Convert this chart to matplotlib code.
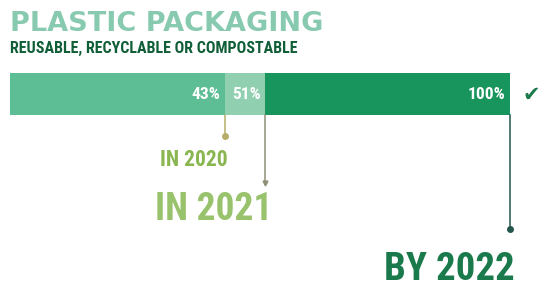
import matplotlib
matplotlib.use("Agg")
import matplotlib.pyplot as plt

# ---- data ----
title = "PLASTIC PACKAGING"
subtitle = "REUSABLE, RECYCLABLE OR COMPOSTABLE"
pcts = [43, 51, 100]
bar_labels = ["43%", "51%", "100%"]
year_labels = ["IN 2020", "IN 2021", "BY 2022"]

# ---- style ----
seg_colors = {100: "#17955c", 51: "#90d0b0", 43: "#5dbd95"}
year_colors = ["#8ab651", "#99c26c", "#1a7a4c"]
line_colors = ["#b5ad68", "#8f8f78", "#24574d"]
line_ends = [136, 183, 229]
year_baselines = [166, 220, 280]
year_sizes = [15.5, 27, 28]
year_offsets = [0.6, 1.4, 1.0]
narrow = ["Roboto Condensed", "DejaVu Sans"]

fig = plt.figure(figsize=(5.41, 2.87), dpi=100)
ax = fig.add_axes([0, 0, 1, 1])
ax.set_xlim(-2, 106.2)
ax.set_ylim(287, 0)
ax.axis("off")

bar_y, bar_h = 94, 42
for p in sorted(pcts, reverse=True):
    ax.barh(bar_y, p, height=bar_h, left=0, color=seg_colors[p], zorder=2)

for p, lab in zip(pcts, bar_labels):
    ax.text(p - 0.9, bar_y + 5, lab, color="white", fontsize=12.5,
            family=narrow, fontweight="bold", ha="right", va="baseline", zorder=4)

bottom = bar_y + bar_h / 2
for i, p in enumerate(pcts):
    ax.plot([p, p], [bottom, line_ends[i]], color=line_colors[i], lw=1.1, zorder=3)
    if i != 1:
        ax.plot(p, line_ends[i], "o", color=line_colors[i], ms=4, zorder=3)
    else:
        ax.plot(p, line_ends[i], "v", color=line_colors[i], ms=3.5, zorder=3)
    ax.text(p + year_offsets[i], year_baselines[i], year_labels[i],
            color=year_colors[i], fontsize=year_sizes[i], family=narrow,
            fontweight="bold", ha="right", va="baseline")

ax.text(102.6, bar_y + 7, "\u2714", color="#1c7a4b", fontsize=15,
        family="DejaVu Sans", ha="left", va="baseline")

ax.text(0, 31, title, color="#88cab0", fontsize=19.5, family="DejaVu Sans",
        fontweight="bold", ha="left", va="baseline")
ax.text(0, 53, subtitle, color="#0f5e37", fontsize=11.5, family=narrow,
        fontweight="bold", ha="left", va="baseline")

fig.savefig("out.png", dpi=100)
